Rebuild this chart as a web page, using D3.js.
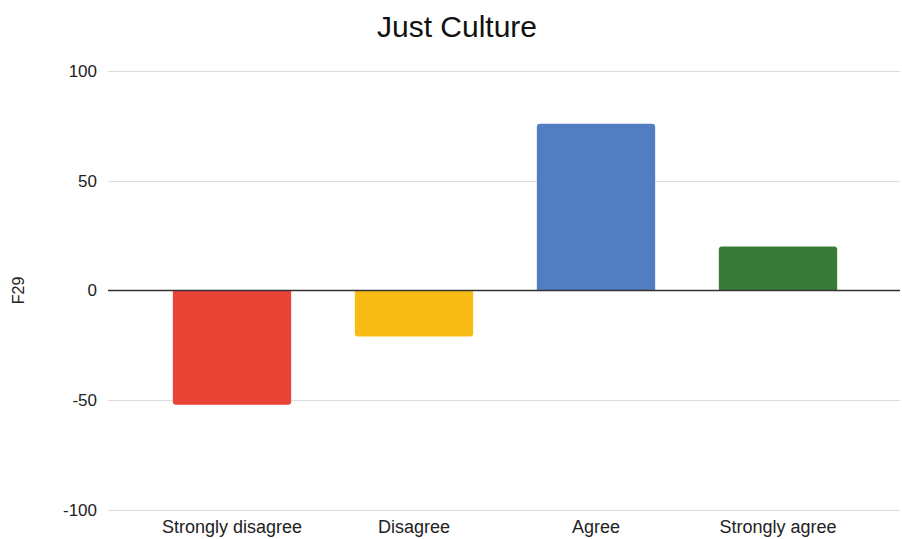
<!DOCTYPE html>
<html>
<head>
<meta charset="utf-8">
<script src="https://cdn.jsdelivr.net/npm/d3@7"></script>
<style>
  html, body { margin: 0; padding: 0; background: #fff; }
  svg { display: block; font-family: "Liberation Sans", Arial, sans-serif; }
</style>
</head>
<body>
<svg id="chart" width="902" height="539"></svg>
<script>
// Survey responses for F29
const categories = ["Strongly disagree", "Disagree", "Agree", "Strongly agree"];
const values = [-52, -21, 76, 20];
const colors = ["#e94335", "#f9bc15", "#537dc2", "#387a38"];
const yTicks = [-100, -50, 0, 50, 100];
const titleText = "Just Culture";
const yAxisTitle = "F29";

const svg = d3.select("#chart");
const plot = { left: 108, right: 900, top: 71, bottom: 510 };

const x = d3.scaleBand()
  .domain(categories)
  .range([141, 869])
  .paddingInner(0.35)
  .paddingOuter(0.175);

const y = d3.scaleLinear()
  .domain([-100, 100])
  .range([plot.bottom, plot.top]);

// Title
svg.append("text")
  .attr("x", 457)
  .attr("y", 37)
  .attr("text-anchor", "middle")
  .attr("font-size", 30)
  .attr("fill", "#111")
  .text(titleText);

// Horizontal gridlines
svg.append("g")
  .selectAll("line")
  .data(yTicks.filter(d => d !== 0))
  .join("line")
  .attr("x1", plot.left)
  .attr("x2", plot.right)
  .attr("y1", d => Math.round(y(d)) + 0.5)
  .attr("y2", d => Math.round(y(d)) + 0.5)
  .attr("stroke", "#dcdcdc")
  .attr("stroke-width", 1.2);

// Y tick labels via axis (plain hyphen for negatives)
const yAxis = d3.axisLeft(y)
  .tickValues(yTicks)
  .tickFormat(d => String(d))
  .tickSize(0)
  .tickPadding(0);
const gy = svg.append("g")
  .attr("transform", "translate(97,0)")
  .call(yAxis);
gy.select(".domain").remove();
gy.selectAll("text")
  .attr("font-size", 17)
  .attr("font-family", "Liberation Sans, Arial, sans-serif")
  .attr("fill", "#222");

// Y axis title
svg.append("text")
  .attr("transform", `translate(24,${y(0)}) rotate(-90)`)
  .attr("text-anchor", "middle")
  .attr("font-size", 16)
  .attr("fill", "#222")
  .text(yAxisTitle);

// Bars with slightly rounded outer corners
function barPath(cat, v) {
  const x0 = x(cat), w = x.bandwidth();
  const y0 = y(0), y1 = y(v);
  const r = 3;
  if (v >= 0) {
    return `M${x0},${y0}V${y1 + r}Q${x0},${y1} ${x0 + r},${y1}H${x0 + w - r}Q${x0 + w},${y1} ${x0 + w},${y1 + r}V${y0}Z`;
  }
  return `M${x0},${y0}V${y1 - r}Q${x0},${y1} ${x0 + r},${y1}H${x0 + w - r}Q${x0 + w},${y1} ${x0 + w},${y1 - r}V${y0}Z`;
}

svg.append("g")
  .selectAll("path")
  .data(categories.map((c, i) => ({ c, v: values[i], col: colors[i] })))
  .join("path")
  .attr("d", d => barPath(d.c, d.v))
  .attr("fill", d => d.col);

// Zero baseline
svg.append("line")
  .attr("x1", plot.left)
  .attr("x2", plot.right)
  .attr("y1", y(0))
  .attr("y2", y(0))
  .attr("stroke", "#333")
  .attr("stroke-width", 1.3);

// Category labels
const xAxis = d3.axisBottom(x).tickSize(0).tickPadding(0);
const gx = svg.append("g")
  .attr("transform", "translate(0,520)")
  .call(xAxis);
gx.select(".domain").remove();
gx.selectAll("text")
  .attr("font-size", 18)
  .attr("font-family", "Liberation Sans, Arial, sans-serif")
  .attr("fill", "#222");
</script>
</body>
</html>
